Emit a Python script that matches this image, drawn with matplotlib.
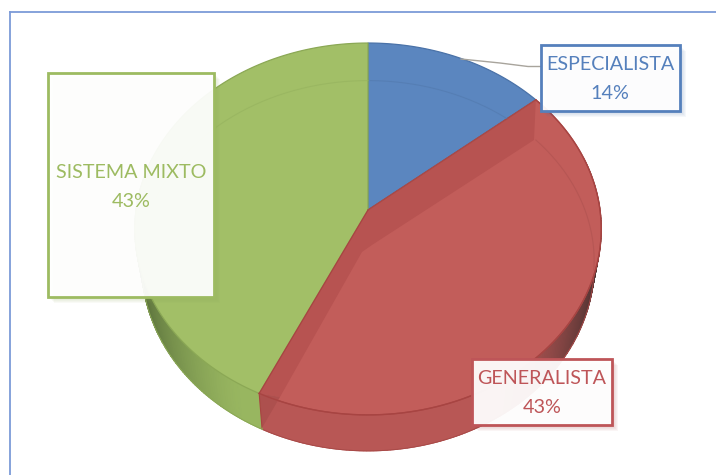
import matplotlib
matplotlib.use('Agg')
import matplotlib.pyplot as plt
import numpy as np
from matplotlib.colors import LinearSegmentedColormap
from matplotlib.patches import Rectangle

plt.rcParams['font.family'] = ['Lato', 'DejaVu Sans']

# data, clockwise from 12 o'clock
categories = ['ESPECIALISTA', 'GENERALISTA', 'SISTEMA MIXTO']
values = [14, 43, 43]
top_colors = ['#5B86BF', '#C25D5A', '#A2BF67']
edge_colors = ['#4A72A8', '#A84A48', '#8BA855']
wall_colors = ['#4A72A8', '#B85755', '#98B660']
wall_dark = ['#2F4A70', '#46302F', '#556B38']
ring_colors = ['#5279AD', '#AE5250', '#95B25E']
text_colors = ['#5580BC', '#BE5558', '#9DBB61']

# pie geometry in pixels, tilted so the near side looks bigger
CX, CY = 368, 210
RX, A, B = 232, 184, 0.102
DEPTH = 36


def project(theta, scale=1.0, dy=0, xs=1.0):
    u = np.sin(theta) * scale
    v = -np.cos(theta) * scale
    d = 1 - B * v
    return CX + xs * RX * u / d, CY + A * v / d + dy


fig = plt.figure(figsize=(7.16, 4.75), dpi=100)
ax = fig.add_axes([0, 0, 1, 1])
ax.set_xlim(0, 716)
ax.set_ylim(475, 0)
ax.axis('off')

# frame
ax.plot([9.5, 9.5], [475, 11.5], color='#7C9BD8', lw=1.3)
ax.plot([9.5, 716], [11.5, 11.5], color='#7C9BD8', lw=1.3)

fracs = np.cumsum([0] + values) / sum(values)
angles = fracs * 2 * np.pi

# side wall, smooth mesh that darkens towards the ends
for i in range(1, 3):
    ts = np.linspace(angles[i], angles[i + 1], 200)
    ts = ts[np.cos(ts) < 0.3]
    xa, ya = project(ts)
    xb, yb = project(ts, dy=DEPTH, xs=0.97)
    shade = np.clip((np.abs(np.sin(ts)) - 0.5) / 0.5, 0, 1) ** 1.4
    cmap = LinearSegmentedColormap.from_list('wall', [wall_colors[i], wall_dark[i]])
    ax.pcolormesh(np.array([xa, xb]), np.array([ya, yb]), np.array([shade, shade]),
                  cmap=cmap, vmin=0, vmax=1, shading='gouraud', zorder=2)
    ax.plot(xb, yb, color=edge_colors[i], lw=0.7, zorder=2.1)

# top faces
for i in range(3):
    ts = np.linspace(angles[i], angles[i + 1], 200)
    x, y = project(ts)
    ax.fill(np.r_[CX, x], np.r_[CY, y], facecolor=top_colors[i],
            edgecolor=edge_colors[i], lw=0.9, zorder=3)

# darker bevel along the cut sides of the red slice
ts = np.linspace(angles[1], angles[2], 200)
x, y = project(ts)
bevel_x = [CX, x[0], 534, 372, 362, 280, x[-1]]
bevel_y = [CY, y[0], 140, 245, 252, 397, y[-1]]
ax.fill(bevel_x, bevel_y, color='#B75351', lw=0, zorder=3.2)
ax.fill([x[-1], 280, 262], [y[-1], 397, 428], color='#AD504E', lw=0, zorder=3.2)
ax.plot(np.r_[CX, x[0]], np.r_[CY, y[0]], color=edge_colors[1], lw=0.9, zorder=3.3)
ax.plot([x[-1], CX], [y[-1], CY], color='#A84442', lw=0.9, zorder=3.3)
ax.plot(x, y, color='#A84442', lw=1.0, zorder=3.3)
ax.plot([x[-1], 262], [y[-1], 428], color='#A84442', lw=0.8, zorder=3.3)

# faint inner ring
ts = np.linspace(0, 2 * np.pi, 600)
xr, yr = project(ts, scale=0.97, dy=33)
slope = (y[0] - CY) / (x[0] - CX)
masks = [(xr > CX) & (yr < CY + (xr - CX) * slope),
         (xr > CX) & (yr > 140) & (yr < 270),
         (xr < CX) & (yr < 200)]
for i in range(3):
    ax.plot(np.where(masks[i], xr, np.nan), np.where(masks[i], yr, np.nan),
            color=ring_colors[i], lw=0.8, alpha=0.6, zorder=3.4)

# leader line
ax.plot([461, 500, 528, 541], [59, 63, 66.5, 66.5], color='#A8A49C', lw=1, zorder=3.5)

# labels
boxes = [(540.5, 44.5, 139.5, 66), (471.5, 358.5, 140.5, 66), (47.5, 72.5, 166.5, 224.5)]
text_xy = [(610, 79), (542, 393), (131, 187)]
for i in range(3):
    bx, by, bw, bh = boxes[i]
    for k in range(1, 6):
        ax.add_patch(Rectangle((bx + 1 + k, by + 1 + k), bw, bh, facecolor=edge_colors[i],
                               alpha=0.05, lw=0, zorder=4))
    ax.add_patch(Rectangle((bx, by), bw, bh, facecolor='white', alpha=0.94,
                           lw=0, zorder=4.1))
    ax.add_patch(Rectangle((bx, by), bw, bh, fill=False, edgecolor=text_colors[i],
                           lw=2, zorder=4.2))
    ax.text(text_xy[i][0], text_xy[i][1], f'{categories[i]}\n{values[i]}%', color=text_colors[i],
            fontsize=14.2, ha='center', va='center', linespacing=1.85, zorder=5)

fig.savefig('out.png', dpi=100)
